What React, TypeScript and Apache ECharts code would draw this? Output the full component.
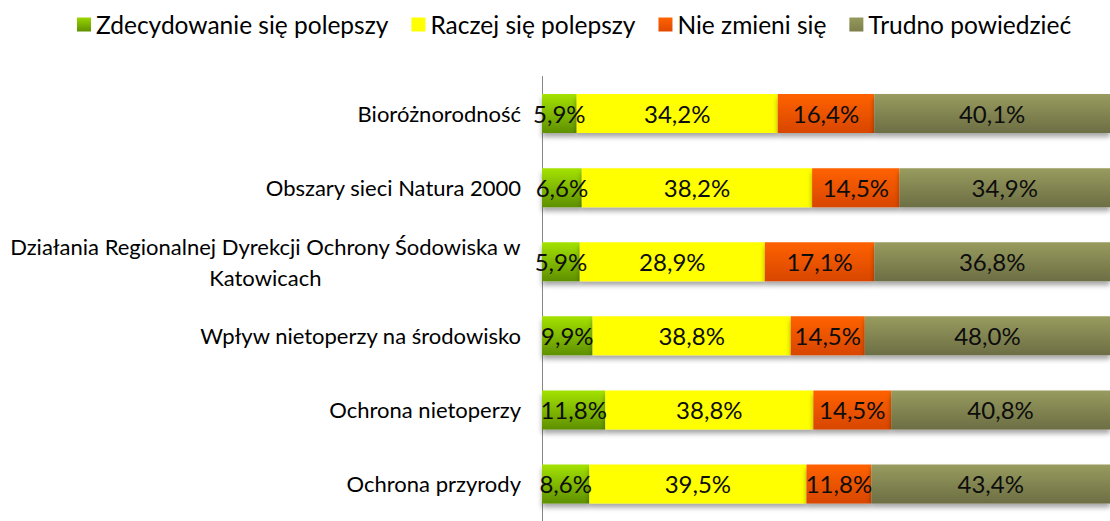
import React, { useEffect, useRef } from "react";
import * as echarts from "echarts";

const categories = [
  "Bioróżnorodność",
  "Obszary sieci Natura 2000",
  "Działania Regionalnej Dyrekcji Ochrony Śodowiska w Katowicach",
  "Wpływ nietoperzy na środowisko",
  "Ochrona nietoperzy",
  "Ochrona przyrody",
];
const seriesNames = ["Zdecydowanie się polepszy", "Raczej się polepszy", "Nie zmieni się", "Trudno powiedzieć"];
const zdecydowanie = [5.9, 6.6, 5.9, 9.9, 11.8, 8.6];
const raczej = [34.2, 38.2, 28.9, 38.8, 38.8, 39.5];
const nieZmieni = [16.4, 14.5, 17.1, 14.5, 14.5, 11.8];
const trudno = [40.1, 34.9, 36.8, 48.0, 40.8, 43.4];

const FONT = "Lato";

const grad = (top: string, bottom: string) =>
  new echarts.graphic.LinearGradient(0, 0, 0, 1, [
    { offset: 0, color: top },
    { offset: 1, color: bottom },
  ]);

export default function App() {
  const ref = useRef<HTMLDivElement>(null);
  useEffect(() => {
    document.body.style.margin = "0";
    const chart = echarts.init(ref.current!, undefined, { renderer: "svg" });
    const all = [zdecydowanie, raczej, nieZmieni, trudno];
    const sums = categories.map((_, i) => all.reduce((s, arr) => s + arr[i], 0));
    const colors = [
      grad("#a4e200", "#5e9000"),
      grad("#ffff00", "#ffff00"),
      grad("#ff6200", "#d84600"),
      grad("#989c5e", "#6c6e44"),
    ];
    const legendColors = [grad("#9ad600", "#5f9000"), "#ffff00", grad("#ff6200", "#e04a00"), grad("#959a5c", "#7c7f4a")];
    const series = all.map((arr, si) => ({
      name: seriesNames[si],
      type: "bar",
      stack: "total",
      barWidth: 39,
      data: arr.map((v, i) => ({ value: (v / sums[i]) * 100, raw: v })),
      itemStyle: {
        color: colors[si],
        shadowColor: "rgba(0,0,0,0.35)",
        shadowBlur: 5,
        shadowOffsetY: 4,
      },
      label: {
        show: true,
        position: "inside",
        color: "#0d0d0d",
        fontFamily: FONT,
        fontSize: 24,
        formatter: (p: any) => p.data.raw.toFixed(1).replace(".", ",") + "%",
      },
    }));
    chart.setOption({
      animation: false,
      color: legendColors,
      legend: {
        left: 72,
        top: 7,
        icon: "rect",
        itemWidth: 14,
        itemHeight: 14,
        itemGap: 23,
        textStyle: { fontFamily: FONT, fontSize: 24.5, color: "#000" },
        data: seriesNames.map((n, i) => ({ name: n, itemStyle: { color: legendColors[i] } })),
      },
      grid: { left: 542, right: -10, top: 76.5, bottom: -9 },
      xAxis: { type: "value", min: 0, max: 100, show: false },
      yAxis: {
        type: "category",
        inverse: true,
        data: categories,
        axisLine: { show: true, lineStyle: { color: "#868686", width: 1 } },
        axisTick: { show: false },
        axisLabel: {
          margin: 21,
          color: "#000",
          fontFamily: FONT,
          fontSize: 22,
          lineHeight: 31,
          formatter: (v: string) => {
            if (v.length > 45) {
              const idx = v.lastIndexOf(" ");
              return "{c|" + v.slice(0, idx) + "}\n{c|" + v.slice(idx + 1) + "}";
            }
            return v;
          },
          rich: { c: { align: "center", fontFamily: FONT, fontSize: 22, color: "#000", lineHeight: 31 } },
        },
      },
      series,
    });
    return () => chart.dispose();
  }, []);
  return <div ref={ref} style={{ width: 1110, height: 521 }} />;
}
